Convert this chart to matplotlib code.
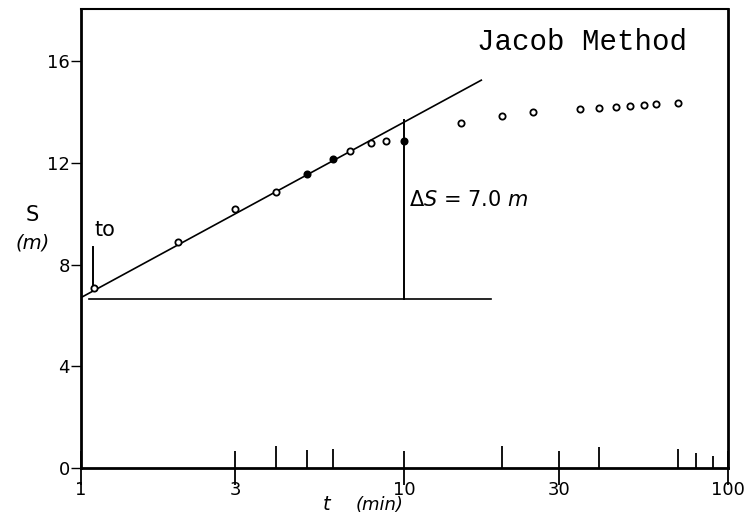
import matplotlib
matplotlib.use("Agg")
import matplotlib.pyplot as plt

# drawdown data (t in min, s in m)
t_open = [1.1, 2.0, 3.0, 4.0, 6.8, 7.9, 8.8, 15, 20, 25, 35, 40, 45, 50, 55, 60, 70]
s_open = [7.1, 8.9, 10.2, 10.85, 12.45, 12.8, 12.85, 13.55, 13.85, 14.0, 14.1, 14.15, 14.2, 14.25, 14.28, 14.3, 14.35]
t_fill = [5.0, 6.0, 10.0]
s_fill = [11.55, 12.15, 12.85]

# straight-line fit (Jacob)
fit_t = [1.0, 17.3]
fit_s = [6.7, 15.25]

# construction lines
base_t = [1.06, 18.6]
base_s = [6.65, 6.65]
ds_t = [10.0, 10.0]
ds_s = [6.65, 13.7]
t0_t = [1.09, 1.09]
t0_s = [7.1, 8.7]

x_major = [1, 3, 10, 30, 100]
x_major_labels = ["1", "3", "10", "30", "100"]
x_minor = [4, 5, 6, 20, 40, 70, 80, 90]
minor_len = [16, 13, 14, 16, 15, 14, 11, 9]
y_ticks = [0, 4, 8, 12, 16]

fig = plt.figure(figsize=(7.48, 5.26), dpi=100)
ax = fig.add_axes([0.108, 0.110, 0.865, 0.873])

ax.plot(fit_t, fit_s, color="black", lw=1.2)
ax.plot(base_t, base_s, color="black", lw=1.2)
ax.plot(ds_t, ds_s, color="black", lw=1.4)
ax.plot(t0_t, t0_s, color="black", lw=1.4)

ax.plot(t_open, s_open, "o", ms=4.5, mfc="white", mec="black", mew=1.3, ls="none")
ax.plot(t_fill, s_fill, "o", ms=4.5, mfc="black", mec="black", mew=1.3, ls="none")

ax.set_xscale("log")
ax.set_xlim(1, 100)
ax.set_ylim(0, 18.05)

ax.set_xticks(x_major)
ax.set_xticklabels(x_major_labels)
ax.set_xticks(x_minor, minor=True)
ax.xaxis.set_minor_formatter(plt.NullFormatter())
ax.set_yticks(y_ticks)

ax.tick_params(axis="x", which="major", direction="inout", length=24, width=1.3,
               labelsize=13, pad=-3)
ax.tick_params(axis="x", which="minor", direction="in", length=14, width=1.3)
ax.tick_params(axis="y", which="major", direction="out", length=7, width=1.0,
               labelsize=13, pad=1)
ax.tick_params(axis="y", which="minor", left=False)

# uneven hand-drawn minor tick lengths
for tk, L in zip(ax.xaxis.get_minor_ticks(), minor_len):
    tk.tick1line.set_markersize(L)

for side in ["left", "bottom", "right"]:
    ax.spines[side].set_linewidth(2.0)
ax.spines["top"].set_linewidth(1.5)

ax.text(0.612, 0.928, "Jacob Method", transform=ax.transAxes, ha="left", va="center",
        family="Liberation Mono", fontsize=21)
ax.text(10.35, 10.55, r"$\Delta S$ = 7.0 $m$", ha="left", va="center", fontsize=15)
ax.text(1.1, 9.35, "to", ha="left", va="center", fontsize=15)

fig.text(0.043, 0.591, "S", ha="center", va="center", fontsize=15)
fig.text(0.043, 0.538, "(m)", ha="center", va="center", fontsize=14, style="italic")
fig.text(0.437, 0.040, "t", ha="center", va="center", fontsize=14, style="italic")
fig.text(0.508, 0.040, "(min)", ha="center", va="center", fontsize=13, style="italic")

fig.savefig("out.png", dpi=100)
